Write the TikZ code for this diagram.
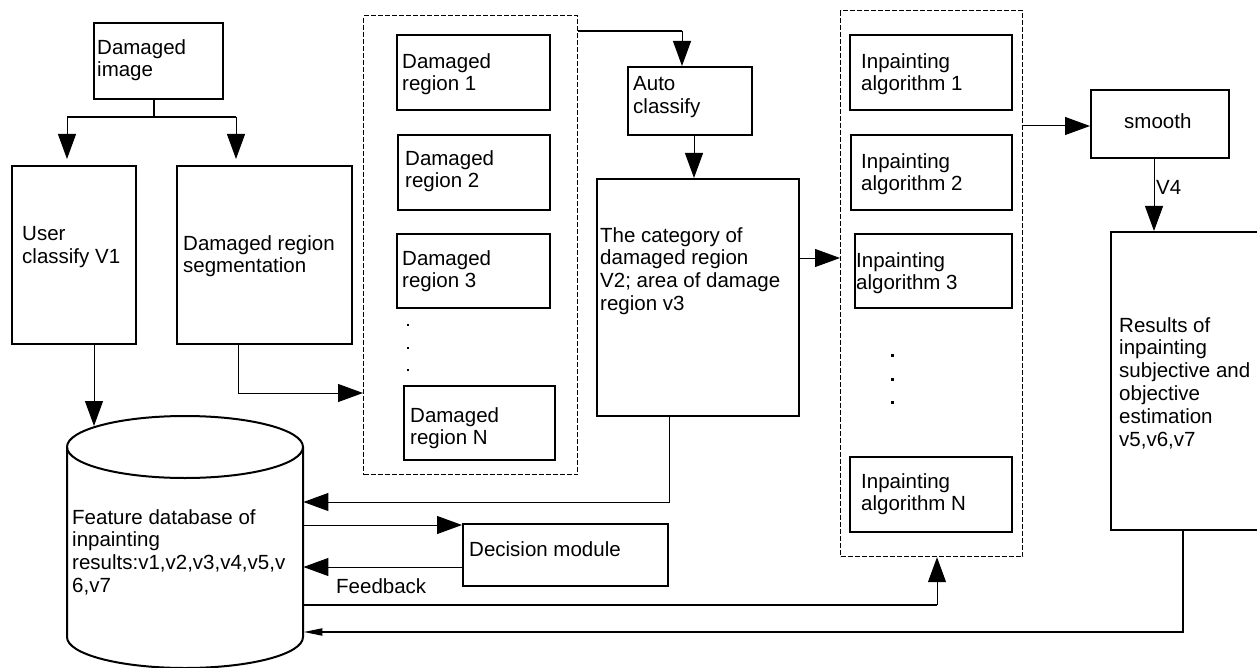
\documentclass[tikz,border=0pt]{standalone}
\usepackage{fontspec}
\setmainfont{Liberation Sans}
\usetikzlibrary{arrows.meta,calc}
\newcommand\dfont{\fontsize{20.5pt}{22.8pt}\selectfont}
\begin{document}
\begin{tikzpicture}[x=1pt,y=-1pt,
  box/.style={draw,line width=2pt,inner sep=0,anchor=north west},
  grp/.style={draw,line width=1.2pt,dash pattern=on 5pt off 2pt,inner sep=0,anchor=north west},
  txt/.style={anchor=north west,inner sep=0,align=left,font=\dfont},
  arr/.style={-{Triangle[length=25pt,width=18pt]},line width=1pt},
  sarr/.style={-{Triangle[length=19pt,width=7pt]},line width=2pt},
  thickline/.style={line width=2pt}]
\useasboundingbox (0,0) rectangle (1257,668);
\clip (0,0) rectangle (1257,668);

% boxes
\node[box,minimum width=129pt,minimum height=76pt] (img) at (93,22) {};
\node[box,minimum width=124pt,minimum height=178pt] (user) at (11,165) {};
\node[box,minimum width=175pt,minimum height=178pt] (seg) at (176,165) {};
\node[grp,minimum width=214pt,minimum height=459pt] (drg) at (363,15) {};
\node[box,minimum width=153pt,minimum height=75pt] (dr1) at (396,34) {};
\node[box,minimum width=152pt,minimum height=75pt] (dr2) at (397,134) {};
\node[box,minimum width=153pt,minimum height=74pt] (dr3) at (396,233) {};
\node[box,minimum width=151pt,minimum height=74pt] (drn) at (403,385) {};
\node[box,minimum width=124pt,minimum height=68pt] (auto) at (627,66) {};
\node[box,minimum width=202pt,minimum height=237pt] (cat) at (596,178) {};
\node[grp,minimum width=182pt,minimum height=546pt] (iag) at (840,10) {};
\node[box,minimum width=162pt,minimum height=75pt] (ia1) at (849,34) {};
\node[box,minimum width=161pt,minimum height=75pt] (ia2) at (850,134) {};
\node[box,minimum width=157pt,minimum height=74pt] (ia3) at (854,233) {};
\node[box,minimum width=162pt,minimum height=75pt] (ian) at (849,456) {};
\node[box,minimum width=138pt,minimum height=68pt] (smooth) at (1090,89) {};
\node[box,minimum width=190pt,minimum height=298pt] (res) at (1110,231) {};
\node[box,minimum width=205pt,minimum height=62pt] (dec) at (462,523) {};

% cylinder (database)
\draw[line width=2pt] (67,447) -- (67,637) arc[start angle=180,end angle=360,x radius=118pt,y radius=31pt] -- (303,447);
\draw[line width=2pt] (185,447) ellipse[x radius=118pt,y radius=31pt];
\node[inner sep=0,minimum width=236pt,minimum height=190pt,anchor=north west] (db) at (67,447) {};

% texts
\node[txt] (t-img) at (97,39) {Damaged\\image};
\node[txt] (t-user) at (22,226) {User\\classify V1};
\node[txt] (t-seg) at (183,235) {Damaged region\\segmentation};
\node[txt] (t-dr1) at (402,53) {Damaged\\region 1};
\node[txt] (t-dr2) at (405,150) {Damaged\\region 2};
\node[txt] (t-dr3) at (402,250) {Damaged\\region 3};
\node[txt] (t-drn) at (410,407) {Damaged\\region N};
\node[txt] (t-auto) at (633,76) {Auto\\classify};
\node[txt] (t-cat) at (600,227) {The category of\\damaged region\\V2; area of damage\\region v3};
\node[txt] (t-ia1) at (861,53) {Inpainting\\algorithm 1};
\node[txt] (t-ia2) at (861,153) {Inpainting\\algorithm 2};
\node[txt] (t-ia3) at (856,252) {Inpainting\\algorithm 3};
\node[txt] (t-ian) at (861,473) {Inpainting\\algorithm N};
\node[txt] (t-smooth) at (1124,113) {smooth};
\node[txt] (t-res) at (1119,317) {Results of\\inpainting\\subjective and\\objective\\estimation\\v5,v6,v7};
\node[txt] (t-db) at (72,509) {Feature database of\\inpainting\\results:v1,v2,v3,v4,v5,v\\6,v7};
\node[txt] (t-dec) at (469,541) {Decision module};

% dots
\fill (407.3,324) rectangle ++(2,2);
\fill (407.3,347) rectangle ++(2,2);
\fill (407.3,369) rectangle ++(2,2);
\fill (890.5,353.5) rectangle ++(3,3);
\fill (890.5,377.5) rectangle ++(3,3);
\fill (890.5,400.5) rectangle ++(3,3);

% connectors
\coordinate (j1) at (154,117);
\coordinate (jl) at (67,117);
\coordinate (jr) at (236,117);
\draw[thickline] (img.south -| j1) -- (j1);
\draw[thickline] (jl) -- (jr);
\draw[arr,shorten >=6pt] (jl) -- (user.north -| jl);
\draw[arr,shorten >=6pt] (jr) -- (seg.north -| jr);

\coordinate (c2) at (94,426);
\draw[arr] (user.south -| c2) -- (c2);

\coordinate (c3) at (238,393);
\draw[arr] (seg.south -| c3) |- (drg.west |- c3);

\coordinate (c4) at (682,31);
\draw[thickline] (drg.east |- c4) -- (c4);
\draw[arr] (c4) -- (auto.north -| c4);

\coordinate (c5) at (694,0);
\draw[arr] (auto.south -| c5) -- (cat.north -| c5);

\coordinate (c6) at (0,258);
\draw[arr] (cat.east |- c6) -- (iag.west |- c6);

\coordinate (c7) at (669,502);
\draw[arr] (cat.south -| c7) |- (db.east |- c7);

\coordinate (c8) at (0,525);
\draw[arr] (db.east |- c8) -- (dec.west |- c8);

\coordinate (c9) at (0,567);
\draw[arr] (dec.west |- c9) -- (db.east |- c9);
\node[txt] (t-fb) at (336,578) {Feedback};

\coordinate (c10) at (937,605);
\draw[thickline] (db.east |- c10) -- (c10);
\draw[arr] (c10) -- (iag.south -| c10);

\coordinate (c11) at (1183,632);
\draw[sarr] (res.south -| c11) |- (db.east |- c11);

\coordinate (c12) at (0,126);
\draw[arr] (iag.east |- c12) -- (smooth.west |- c12);

\coordinate (c13) at (1154,0);
\draw[arr] (smooth.south -| c13) -- (res.north -| c13);
\node[txt] (t-v4) at (1156,180) {V4};
\end{tikzpicture}
\end{document}
